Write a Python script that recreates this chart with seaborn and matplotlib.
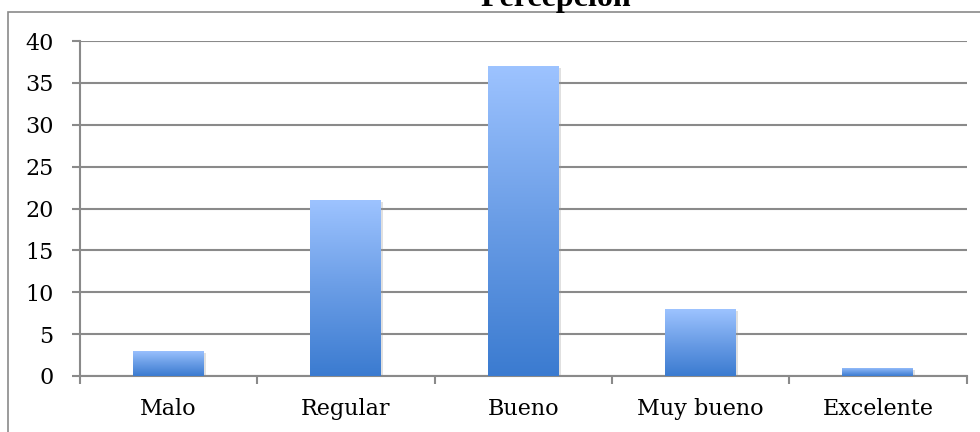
import numpy as np
import pandas as pd
import matplotlib
matplotlib.use("Agg")
import matplotlib.pyplot as plt
import matplotlib.patheffects as pe
from matplotlib.colors import LinearSegmentedColormap
from matplotlib.patches import Rectangle
import seaborn as sns

categories = ["Malo", "Regular", "Bueno", "Muy bueno", "Excelente"]
values = [3, 21, 37, 8, 1]
yticks = [0, 5, 10, 15, 20, 25, 30, 35, 40]
title = "Percepción"

sns.set_theme(style="white")
plt.rcParams["font.family"] = ["DejaVu Serif"]

W, H = 980, 432
fig = plt.figure(figsize=(W / 100, H / 100), dpi=100)
left, right, top, bottom = 80, 966.5, 41, 376
ax = fig.add_axes([left / W, (H - bottom) / H, (right - left) / W, (bottom - top) / H])

df = pd.DataFrame({"cat": categories, "val": values})
sns.barplot(data=df, x="cat", y="val", width=0.4, color="#5b8fdc", ax=ax,
            saturation=1, zorder=2)

cmap = LinearSegmentedColormap.from_list("g", ["#3b7bd0", "#6a9de6", "#9dc3ff"])
grad = np.linspace(0, 1, 256).reshape(-1, 1)
for p in ax.patches:
    x0, y0 = p.get_x(), p.get_y()
    w, h = p.get_width(), p.get_height()
    p.set_edgecolor("none")
    p.set_path_effects([pe.SimplePatchShadow(offset=(1.5, -1.5), shadow_rgbFace="#999999", alpha=0.3), pe.Normal()])
    im = ax.imshow(grad, cmap=cmap, origin="lower", aspect="auto",
                   extent=(x0, x0 + w, y0, y0 + h), zorder=3)
    im.set_clip_path(p)

ax.set_xlim(-0.5, len(categories) - 0.5)
ax.set_ylim(0, 40)
ax.set_yticks(yticks)
ax.set_yticklabels([str(t) for t in yticks])
ax.set_xlabel("")
ax.set_ylabel("")

gray = "#8a8a8a"
ax.set_axisbelow(True)
ax.yaxis.grid(True, color=gray, linewidth=1.5)
ax.xaxis.grid(False)

for s in ["top", "right"]:
    ax.spines[s].set_visible(False)
for s in ["left", "bottom"]:
    ax.spines[s].set_color(gray)
    ax.spines[s].set_linewidth(1.5)

ax.set_xticks(np.arange(len(categories)))
ax.set_xticklabels(categories)
ax.set_xticks(np.arange(-0.5, len(categories)), minor=True)
ax.tick_params(axis="x", which="major", length=0, pad=16, labelsize=16, labelcolor="#000000")
ax.tick_params(axis="x", which="minor", length=6, width=1.5, color=gray, direction="out", bottom=True)
ax.tick_params(axis="y", which="major", length=6, width=1.5, color=gray, direction="out",
               pad=13, labelsize=16, labelcolor="#000000", left=True)

# outer chart border
fig.patches.append(Rectangle((8 / W, -0.1), 1.2, (H - 12) / H + 0.1, transform=fig.transFigure,
                             fill=False, edgecolor=gray, linewidth=1.2, zorder=0))

fig.text(556 / W, (H - 6) / H, title, ha="center", va="baseline",
         fontsize=23, fontweight="bold", family=["Liberation Serif", "DejaVu Serif"], color="#000000")

fig.savefig("out.png", dpi=100, facecolor="white")
